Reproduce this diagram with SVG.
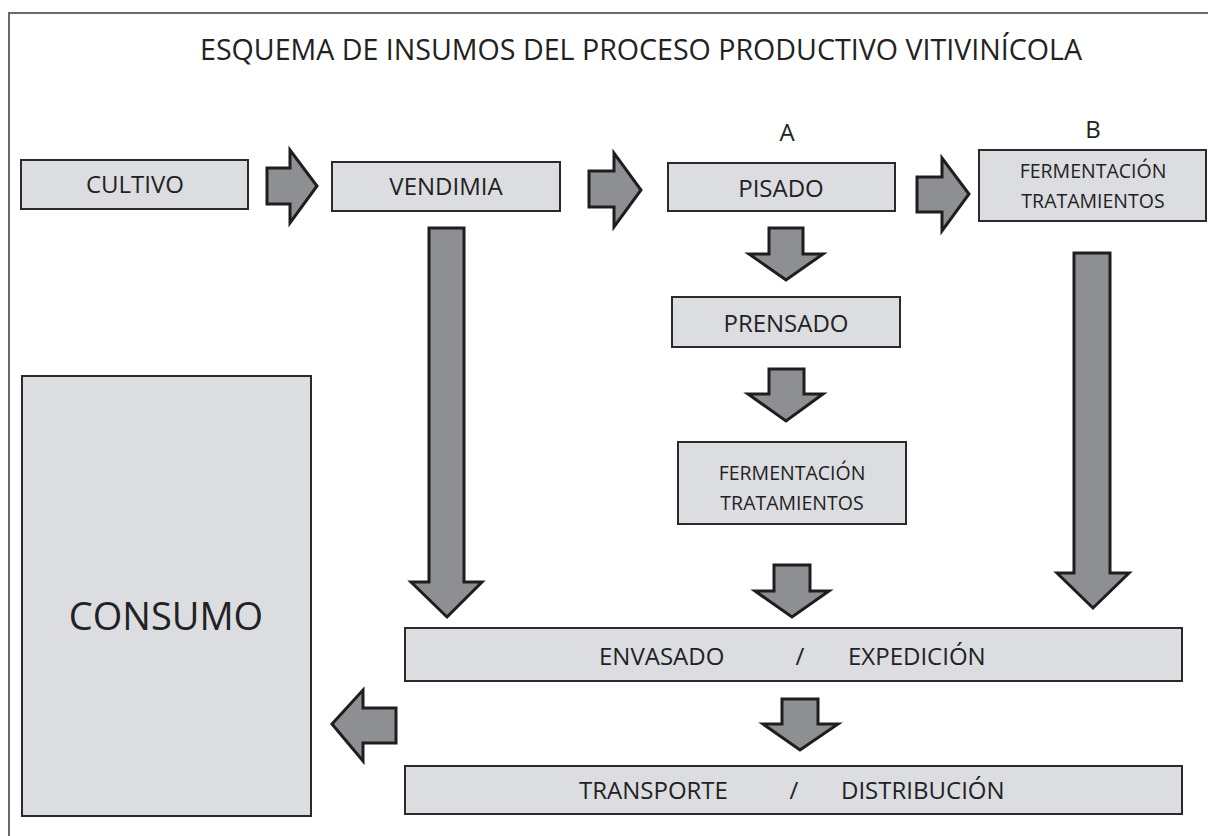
<svg xmlns="http://www.w3.org/2000/svg" width="1208" height="836" viewBox="0 0 1208 836">
<style>
.frame{fill:#fff;stroke:#6a6a6a;stroke-width:2}
.box{fill:#dcdde0;stroke:#2a2a2a;stroke-width:2}
.arr{fill:#8e8f93;stroke:#1e1e1e;stroke-width:3;stroke-linejoin:miter}
text{font-family:"Open Sans","Liberation Sans",sans-serif;fill:#222}
.lbl{font-size:24px}
.sm{font-size:19.5px;text-anchor:middle}
.mid{text-anchor:middle}
</style>
<rect width="1208" height="836" fill="#fff"/>
<rect class="frame" x="9" y="13" width="1230" height="860"/>
<text class="mid" x="641" y="60" font-size="28.6">ESQUEMA DE INSUMOS DEL PROCESO PRODUCTIVO VITIVINÍCOLA</text>
<text class="lbl mid" x="787" y="141">A</text>
<text class="lbl mid" x="1093" y="138">B</text>
<g id="connectors">
<polygon class="arr" points="267,168 290,168 290,150 317,186 290,223 290,204 267,204"/>
<polygon class="arr" points="589,171 614,171 614,153 641,190 614,227 614,207 589,207"/>
<polygon class="arr" points="917,177 942,177 942,158 969,194 942,231 942,212 917,212"/>
<polygon class="arr" points="429,228 464,228 464,582 482,582 447,617 411,582 429,582"/>
<polygon class="arr" points="769,228 803,228 803,254 823,254 786,280 749,254 769,254"/>
<polygon class="arr" points="769,369 804,369 804,394 823,394 786,421 748,394 769,394"/>
<polygon class="arr" points="774,565 810,565 810,591 829,591 792,617 755,591 774,591"/>
<polygon class="arr" points="1074,253 1110,253 1110,573 1129,573 1093,608 1057,573 1074,573"/>
<polygon class="arr" points="782,699 818,699 818,724 838,724 800,750 763,724 782,724"/>
<polygon class="arr" points="396,708 363,708 363,690 332,724 363,761 363,743 396,743"/>
</g>
<g id="cultivo"><rect class="box" x="21" y="160" width="227" height="49"/><text class="lbl mid" x="135" y="193">CULTIVO</text></g>
<g id="vendimia"><rect class="box" x="332" y="162" width="228" height="49"/><text class="lbl mid" x="446" y="195">VENDIMIA</text></g>
<g id="pisado"><rect class="box" x="668" y="163" width="227" height="48"/><text class="lbl mid" x="781" y="197">PISADO</text></g>
<g id="fermentacion-b"><rect class="box" x="979" y="150" width="227" height="71"/><text class="sm" x="1093" y="178">FERMENTACIÓN</text><text class="sm" x="1093" y="208">TRATAMIENTOS</text></g>
<g id="prensado"><rect class="box" x="672" y="297" width="228" height="50"/><text class="lbl mid" x="786" y="332">PRENSADO</text></g>
<g id="fermentacion-a"><rect class="box" x="678" y="442" width="228" height="82"/><text class="sm" x="792" y="480">FERMENTACIÓN</text><text class="sm" x="792" y="510">TRATAMIENTOS</text></g>
<g id="envasado"><rect class="box" x="405" y="628" width="777" height="53"/><text class="lbl" x="599" y="665">ENVASADO</text><text class="lbl mid" x="800" y="665">/</text><text class="lbl" x="848" y="665">EXPEDICIÓN</text></g>
<g id="transporte"><rect class="box" x="405" y="766" width="777" height="48"/><text class="lbl" x="579" y="799">TRANSPORTE</text><text class="lbl mid" x="794" y="799">/</text><text class="lbl" x="841" y="799">DISTRIBUCIÓN</text></g>
<g id="consumo"><rect class="box" x="22" y="376" width="289" height="440"/><text class="mid" x="166" y="630" font-size="38">CONSUMO</text></g>
</svg>
